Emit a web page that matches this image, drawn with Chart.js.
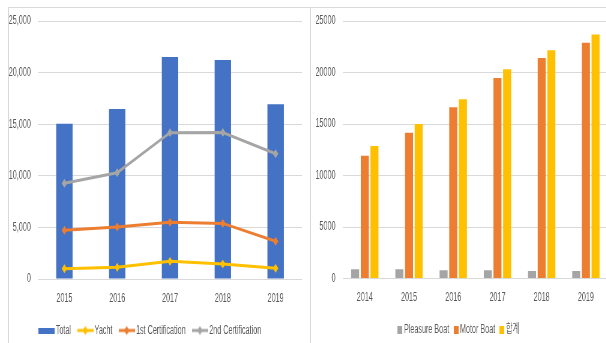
<!DOCTYPE html>
<html>
<head>
<meta charset="utf-8">
<script src="https://cdn.jsdelivr.net/npm/chart.js@4.4.1/dist/chart.umd.min.js"></script>
<style>
  html, body { margin: 0; padding: 0; background: #fff; }
  body { width: 606px; height: 343px; overflow: hidden; position: relative; }
  .panel { position: absolute; top: 0; width: 517px; height: 350px; transform: scaleX(0.6); transform-origin: 0 0; }
  .panel canvas { display: block; }
  #leftPanel { left: 0; }
  #rightPanel { left: 311px; }
  .rule { position: absolute; background: #d9d9d9; }
</style>
</head>
<body>
<div id="leftPanel" class="panel"><canvas id="leftChart" width="517" height="350"></canvas></div>
<div id="rightPanel" class="panel"><canvas id="rightChart" width="517" height="350"></canvas></div>
<div class="rule" style="left:8px;top:7px;width:598px;height:1px"></div>
<div class="rule" style="left:8px;top:7px;width:1px;height:336px"></div>
<div class="rule" style="left:310px;top:7px;width:1px;height:336px"></div>
<script>
// Certification chart (left)
const YEARS_A = ['2015', '2016', '2017', '2018', '2019'];
const TOTAL = [15050, 16480, 21510, 21220, 16930];
const YACHT = [1000, 1130, 1710, 1450, 1030];
const CERT_1ST = [4720, 5040, 5490, 5390, 3650];
const CERT_2ND = [9270, 10300, 14180, 14200, 12140];
const Y_TICKS_A = [0, 5000, 10000, 15000, 20000, 25000];

// Registered boats chart (right)
const YEARS_B = ['2014', '2015', '2016', '2017', '2018', '2019'];
const PLEASURE = [900, 900, 810, 800, 740, 740];
const MOTOR = [11920, 14150, 16620, 19470, 21410, 22900];
const SUM_B = [12860, 15000, 17400, 20310, 22160, 23680];
const Y_TICKS_B = [0, 5000, 10000, 15000, 20000, 25000];

const BLUE = '#4472C4', ORANGE = '#ED7D31', GREY = '#A5A5A5', GOLD = '#FFC000';
const TEXT = '#595959', GRID = '#d9d9d9';

Chart.defaults.font.family = "'Liberation Sans', 'Noto Sans CJK KR', sans-serif";
Chart.defaults.font.size = 12;
Chart.defaults.color = TEXT;

function boxIcon(color, w, h) {
  const c = document.createElement('canvas');
  c.width = w; c.height = h;
  const g = c.getContext('2d');
  g.fillStyle = color;
  g.fillRect(0, 0, w, h);
  return c;
}

function lineIcon(color, w, h) {
  const c = document.createElement('canvas');
  c.width = w; c.height = h;
  const g = c.getContext('2d');
  g.strokeStyle = color;
  g.lineWidth = 3;
  g.beginPath();
  g.moveTo(0, h / 2);
  g.lineTo(w, h / 2);
  g.stroke();
  const r = 4.5;
  g.fillStyle = color;
  g.beginPath();
  g.moveTo(w / 2, h / 2 - r);
  g.lineTo(w / 2 + r, h / 2);
  g.lineTo(w / 2, h / 2 + r);
  g.lineTo(w / 2 - r, h / 2);
  g.closePath();
  g.fill();
  return c;
}

function valueAxis(ticks, width, fmt) {
  return {
    min: 0,
    max: 25000,
    afterBuildTicks: s => { s.ticks = ticks.map(v => ({ value: v })); },
    afterFit: s => { s.width = width; },
    grid: { color: GRID, lineWidth: 1, drawTicks: false },
    border: { display: false },
    ticks: { padding: 12, color: TEXT, callback: fmt }
  };
}

function categoryAxis(height) {
  return {
    afterFit: s => { s.height = height; },
    grid: { display: false, drawTicks: false },
    border: { display: false },
    ticks: { padding: 12, color: TEXT }
  };
}

function lineSet(label, data, color) {
  return {
    type: 'line', label, data, order: 0,
    borderColor: color, backgroundColor: color, borderWidth: 3,
    pointStyle: 'rectRot', pointRadius: 4, pointBorderWidth: 1,
    pointBackgroundColor: color, pointBorderColor: color,
    tension: 0, legendIcon: lineIcon(color, 27, 10)
  };
}

function legendItems(chart) {
  return chart.data.datasets.map((ds, i) => ({
    text: ds.label, fillStyle: ds.backgroundColor, strokeStyle: ds.backgroundColor,
    lineWidth: 0, pointStyle: ds.legendIcon, hidden: false, datasetIndex: i, fontColor: TEXT
  }));
}

new Chart(document.getElementById('leftChart'), {
  type: 'bar',
  data: {
    labels: YEARS_A,
    datasets: [
      { label: 'Total', data: TOTAL, order: 1, backgroundColor: BLUE,
        barPercentage: 0.31, categoryPercentage: 1, legendIcon: boxIcon(BLUE, 27, 6) },
      lineSet('Yacht', YACHT, GOLD),
      lineSet('1st Certification', CERT_1ST, ORANGE),
      lineSet('2nd Certification', CERT_2ND, GREY)
    ]
  },
  options: {
    responsive: false,
    animation: false,
    locale: 'en-US',
    layout: { padding: { top: 21, right: 13.7, bottom: 3.5, left: 0 } },
    scales: {
      x: categoryAxis(31.2),
      y: valueAxis(Y_TICKS_A, 63.3, v => v.toLocaleString('en-US'))
    },
    plugins: {
      tooltip: { enabled: false },
      legend: {
        position: 'bottom',
        labels: {
          usePointStyle: true,
          pointStyleWidth: 19,
          padding: 14.3,
          color: TEXT,
          generateLabels: legendItems
        }
      }
    }
  }
});

function barSet(label, data, color) {
  return { label, data, backgroundColor: color, barPercentage: 0.83, categoryPercentage: 0.655,
           legendIcon: boxIcon(color, 8, 8) };
}

new Chart(document.getElementById('rightChart'), {
  type: 'bar',
  data: {
    labels: YEARS_B,
    datasets: [
      barSet('Pleasure Boat', PLEASURE, GREY),
      barSet('Motor Boat', MOTOR, ORANGE),
      barSet('합계', SUM_B, GOLD)
    ]
  },
  options: {
    responsive: false,
    animation: false,
    layout: { padding: { top: 21, right: 22, bottom: 4, left: 0 } },
    scales: {
      x: categoryAxis(34.5),
      y: valueAxis(Y_TICKS_B, 52.8, v => String(v))
    },
    plugins: {
      tooltip: { enabled: false },
      legend: {
        position: 'bottom',
        labels: {
          usePointStyle: true,
          pointStyleWidth: 1,
          padding: 11,
          color: TEXT,
          generateLabels: legendItems
        }
      }
    }
  }
});
</script>
</body>
</html>
